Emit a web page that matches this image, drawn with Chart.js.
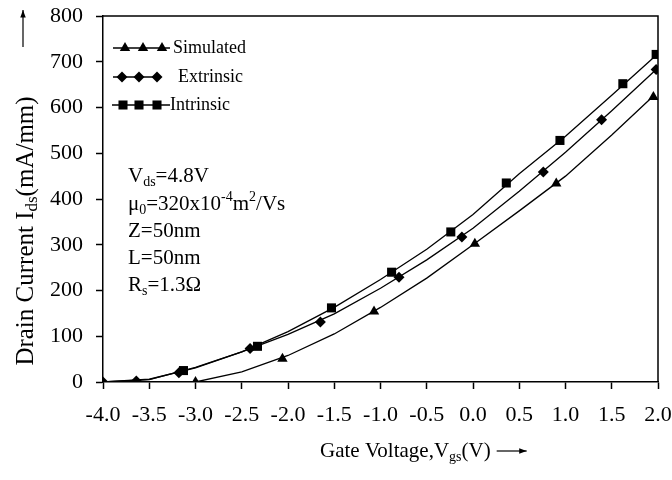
<!DOCTYPE html>
<html>
<head>
<meta charset="utf-8">
<style>
  html, body { margin: 0; padding: 0; background: #fff; }
  #wrap { width: 672px; height: 480px; }
</style>
<script src="https://cdn.jsdelivr.net/npm/chart.js@4.4.1/dist/chart.umd.min.js"></script>
</head>
<body>
<div id="wrap"><canvas id="chart"></canvas></div>
<script>
"use strict";

// Smooth model curves, Vgs (V) against Ids (mA/mm)
const simCurveVgs = [-3.0, -2.5, -2.0, -1.5, -1.0, -0.5, 0.0, 0.5, 1.0, 1.5, 1.95];
const simCurveIds = [0, 22, 58, 105, 163, 227, 300, 374, 450, 540, 625];
const extCurveVgs = [-4.0, -3.5, -3.0, -2.5, -2.0, -1.5, -1.0, -0.5, 0.0, 0.5, 1.0, 1.5, 1.98];
const extCurveIds = [0, 6, 31, 66, 104, 149, 205, 267, 336, 417, 502, 593, 683];
const intCurveVgs = [-4.0, -3.5, -3.0, -2.5, -2.0, -1.5, -1.0, -0.5, 0.0, 0.5, 1.0, 1.5, 1.98];
const intCurveIds = [0, 5, 32, 66, 110, 163, 224, 290, 366, 455, 537, 627, 714];

// Marker points on each curve
const simMarkVgs = [-3.0, -2.06, -1.07, 0.02, 0.9, 1.95];
const simMarkIds = [0, 51, 154, 302, 434, 623];
const extMarkVgs = [-4.0, -3.64, -3.18, -2.41, -1.65, -0.8, -0.12, 0.76, 1.39, 1.98];
const extMarkIds = [0, 2, 20, 73, 131, 229, 317, 459, 573, 683];
const intMarkVgs = [-3.13, -2.33, -1.53, -0.88, -0.24, 0.36, 0.94, 1.62, 1.98];
const intMarkIds = [25, 78, 162, 240, 328, 435, 528, 652, 716];

const seriesNames = ["Simulated", "Extrinsic", "Intrinsic"];

// Device parameters printed inside the plot: [text, "" | "sub" | "sup"]
const deviceNotes = [
  [["V", ""], ["ds", "sub"], ["=4.8V", ""]],
  [["\u03bc", ""], ["0", "sub"], ["=320x10", ""], ["-4", "sup"], ["m", ""], ["2", "sup"], ["/Vs", ""]],
  [["Z=50nm", ""]],
  [["L=50nm", ""]],
  [["R", ""], ["s", "sub"], ["=1.3\u03a9", ""]],
];

const FONT = "'Liberation Serif', 'Times New Roman', serif";
const INK = "#000";

const pts = (xs, ys) => xs.map((x, i) => ({ x, y: ys[i] }));

// draws a run of text pieces with sub/superscripts, left aligned, middle baseline
function drawRich(ctx, parts, x, y, size) {
  ctx.textBaseline = "middle";
  ctx.textAlign = "left";
  for (const [txt, mode] of parts) {
    const s = mode ? Math.round(size * 0.68) : size;
    const dy = mode === "sub" ? size * 0.28 : mode === "sup" ? -size * 0.32 : 0;
    ctx.font = `${s}px ${FONT}`;
    ctx.fillText(txt, x, y + dy);
    x += ctx.measureText(txt).width;
  }
  return x;
}

function richWidth(ctx, parts, size) {
  let w = 0;
  for (const [txt, mode] of parts) {
    ctx.font = `${mode ? Math.round(size * 0.68) : size}px ${FONT}`;
    w += ctx.measureText(txt).width;
  }
  return w;
}

function arrow(ctx, x1, y1, x2, y2) {
  const a = Math.atan2(y2 - y1, x2 - x1);
  ctx.beginPath();
  ctx.moveTo(x1, y1);
  ctx.lineTo(x2, y2);
  ctx.stroke();
  ctx.beginPath();
  ctx.moveTo(x2, y2);
  ctx.lineTo(x2 - 8 * Math.cos(a - 0.35), y2 - 8 * Math.sin(a - 0.35));
  ctx.lineTo(x2 - 8 * Math.cos(a + 0.35), y2 - 8 * Math.sin(a + 0.35));
  ctx.closePath();
  ctx.fill();
}

// frame, axis titles, parameter block and the line+marker legend
const decorations = {
  id: "decorations",
  afterDraw(chart) {
    const { ctx, chartArea: a } = chart;
    ctx.save();
    ctx.strokeStyle = INK;
    ctx.fillStyle = INK;
    ctx.lineWidth = 1.5;
    ctx.beginPath();
    ctx.moveTo(a.left, a.top);
    ctx.lineTo(a.right, a.top);
    ctx.lineTo(a.right, a.bottom);
    ctx.stroke();

    // y title, rotated
    const yTitle = [["Drain Current I", ""], ["ds", "sub"], ["(mA/mm)", ""]];
    ctx.save();
    ctx.translate(26, 231);
    ctx.rotate(-Math.PI / 2);
    const yw = richWidth(ctx, yTitle, 25);
    drawRich(ctx, yTitle, -yw / 2, 0, 25);
    ctx.restore();
    ctx.lineWidth = 1.2;
    arrow(ctx, 23, 47, 23, 10);

    // x title with arrow
    const xTitle = [["Gate Voltage,V", ""], ["gs", "sub"], ["(V)", ""]];
    const xEnd = drawRich(ctx, xTitle, 320, 451, 21);
    arrow(ctx, xEnd + 6, 451, xEnd + 36, 451);

    // parameter block
    const rowsY = [176, 204, 231, 258, 285];
    deviceNotes.forEach((parts, i) => drawRich(ctx, parts, 128, rowsY[i], 21));

    // legend: short line with three markers, then the series name
    const legend = [
      { ds: 3, y: 48, x0: 113, x1: 170, marks: [125, 143, 162], tx: 173 },
      { ds: 4, y: 77, x0: 113, x1: 160, marks: [122, 139, 157], tx: 178 },
      { ds: 5, y: 105, x0: 112, x1: 170, marks: [123, 139, 157], tx: 170 },
    ];
    for (const row of legend) {
      const d = chart.data.datasets[row.ds];
      ctx.lineWidth = 1.3;
      ctx.beginPath();
      ctx.moveTo(row.x0, row.y);
      ctx.lineTo(row.x1, row.y);
      ctx.stroke();
      for (const mx of row.marks) {
        Chart.helpers.drawPoint(ctx, { pointStyle: d.pointStyle, radius: d.pointRadius, rotation: 0, borderWidth: 0 }, mx, row.y);
      }
      ctx.font = `18px ${FONT}`;
      ctx.textBaseline = "middle";
      ctx.textAlign = "left";
      ctx.fillText(d.label, row.tx, row.y);
    }
    ctx.restore();
  },
};

const curveStyle = { showLine: true, pointRadius: 0, borderColor: INK, borderWidth: 1.3, order: 2 };
const markStyle = { showLine: false, backgroundColor: INK, borderColor: INK, borderWidth: 0, order: 1 };

new Chart(document.getElementById("chart"), {
  type: "scatter",
  data: {
    datasets: [
      { ...curveStyle, label: "sim-curve", data: pts(simCurveVgs, simCurveIds) },
      { ...curveStyle, label: "ext-curve", data: pts(extCurveVgs, extCurveIds) },
      { ...curveStyle, label: "int-curve", data: pts(intCurveVgs, intCurveIds) },
      { ...markStyle, label: seriesNames[0], data: pts(simMarkVgs, simMarkIds), pointStyle: "triangle", pointRadius: 6 },
      { ...markStyle, label: seriesNames[1], data: pts(extMarkVgs, extMarkIds), pointStyle: "rectRot", pointRadius: 5.5 },
      { ...markStyle, label: seriesNames[2], data: pts(intMarkVgs, intMarkIds), pointStyle: "rect", pointRadius: 6.4 },
    ],
  },
  options: {
    responsive: true,
    maintainAspectRatio: false,
    animation: false,
    layout: { padding: { top: 16, right: 14, left: 0, bottom: 0 } },
    plugins: { legend: { display: false }, tooltip: { enabled: false } },
    scales: {
      x: {
        type: "linear",
        min: -4,
        max: 2,
        ticks: {
          stepSize: 0.5,
          color: INK,
          font: { family: FONT, size: 22 },
          padding: 13,
          maxRotation: 0,
          autoSkip: false,
          callback: (v) => v.toFixed(1),
        },
        grid: { drawOnChartArea: false, tickLength: 7, tickColor: INK, tickWidth: 1.5 },
        border: { color: INK, width: 1.5 },
        afterFit(scale) {
          scale.height = 98;
          scale.paddingLeft = 0;
          scale.paddingRight = 0;
        },
      },
      y: {
        min: 0,
        max: 800,
        ticks: {
          stepSize: 100,
          color: INK,
          font: { family: FONT, size: 22 },
          padding: 13,
        },
        grid: { drawOnChartArea: false, tickLength: 7, tickColor: INK, tickWidth: 1.5 },
        border: { color: INK, width: 1.5 },
        afterFit(scale) {
          scale.width = 103;
          scale.paddingTop = 0;
          scale.paddingBottom = 0;
        },
      },
    },
  },
  plugins: [decorations],
});
</script>
</body>
</html>
